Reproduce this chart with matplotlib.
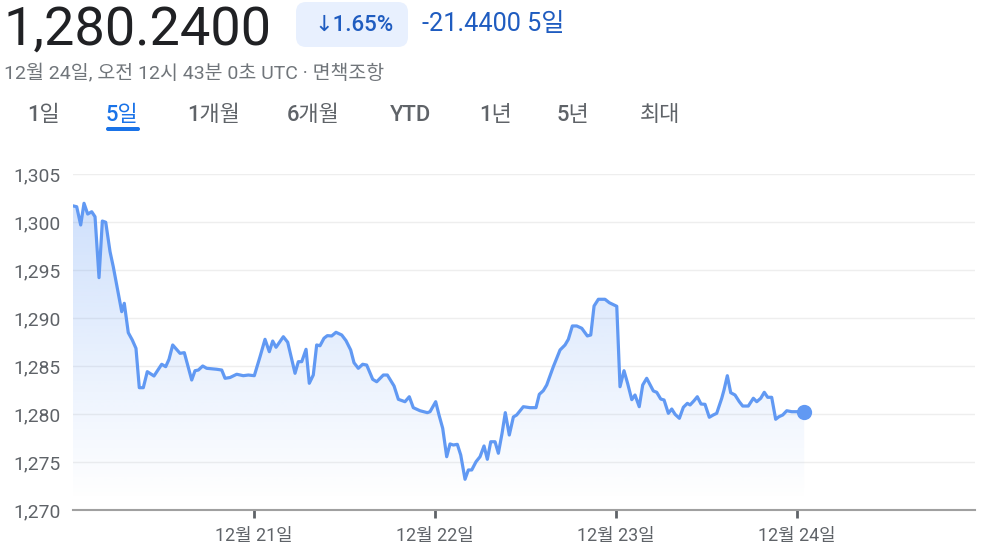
import numpy as np
import matplotlib
matplotlib.use("Agg")
import matplotlib.pyplot as plt
from matplotlib.patches import FancyBboxPatch

FONT = ['Roboto', 'Noto Sans CJK KR', 'DejaVu Sans']
plt.rcParams['font.family'] = FONT

# USD/KRW, hours since 12/20 00:00 UTC
hours = [0.00, 0.49, 1.02, 1.46, 1.95, 2.48, 2.92, 3.45, 3.89, 4.34,
         4.91, 5.34, 6.01, 6.46, 6.80, 7.33, 7.86, 8.35, 8.79, 9.32,
         9.85, 10.74, 11.76, 12.29, 12.73, 13.22, 14.19, 14.76, 15.74, 16.18,
         16.62, 17.20, 17.73, 19.05, 19.72, 20.16, 20.82, 21.71, 22.58, 23.25,
         24.04, 24.80, 25.46, 26.03, 26.48, 26.92, 27.89, 28.47, 29.44, 29.88,
         30.33, 30.90, 31.33, 31.86, 32.31, 32.75, 33.28, 33.72, 34.30, 34.87,
         35.63, 36.20, 36.82, 37.26, 37.83, 38.41, 38.94, 39.74, 40.27, 41.15,
         41.68, 42.57, 43.14, 44.02, 44.59, 45.12, 46.01, 46.98, 47.34, 48.09,
         48.53, 49.02, 49.55, 49.99, 50.43, 50.96, 51.41, 51.98, 52.42, 52.87,
         53.44, 53.97, 54.50, 54.94, 55.39, 55.96, 56.40, 56.89, 57.32, 57.85,
         58.39, 58.83, 59.71, 60.60, 61.39, 61.83, 62.36, 62.81, 63.69, 64.58,
         65.24, 65.68, 66.21, 66.79, 67.46, 68.20, 68.65, 69.09, 69.66, 70.54,
         71.12, 72.10, 72.53, 73.06, 73.55, 74.09, 74.52, 75.08, 75.54, 76.07,
         76.95, 77.40, 77.93, 78.37, 78.94, 79.39, 79.83, 80.40, 80.93, 81.46,
         81.82, 82.35, 82.78, 83.27, 83.80, 84.37, 84.90, 85.35, 86.02, 86.32,
         86.76, 87.21, 87.78, 88.35, 88.80, 89.54, 90.21, 90.66, 91.19, 91.66,
         92.11, 92.64, 93.17, 93.61, 94.11, 94.64, 95.30, 96.18, 96.95]
rates = [1301.68, 1301.59, 1299.69, 1301.95, 1300.83, 1301.07, 1300.55, 1294.20, 1300.10, 1299.97,
         1296.91, 1295.34, 1292.57, 1290.66, 1291.53, 1288.47, 1287.71, 1286.84, 1282.74, 1282.74,
         1284.41, 1283.96, 1285.18, 1284.93, 1285.70, 1287.19, 1286.32, 1286.39, 1283.54, 1284.51,
         1284.58, 1285.00, 1284.76, 1284.66, 1284.58, 1283.72, 1283.80, 1284.14, 1283.99, 1284.06,
         1283.99, 1285.97, 1287.78, 1286.49, 1287.60, 1286.95, 1288.05, 1287.47, 1284.24, 1285.45,
         1285.45, 1286.74, 1283.20, 1284.06, 1287.19, 1287.11, 1287.89, 1288.16, 1288.13, 1288.51,
         1288.23, 1287.64, 1286.67, 1285.34, 1284.76, 1285.18, 1285.10, 1283.61, 1283.36, 1284.06,
         1284.06, 1282.92, 1281.53, 1281.28, 1281.80, 1280.66, 1280.34, 1280.14, 1280.24, 1281.28,
         1279.90, 1278.51, 1275.55, 1276.88, 1276.77, 1276.84, 1275.73, 1273.20, 1274.17, 1274.17,
         1275.03, 1275.55, 1276.67, 1275.28, 1277.11, 1277.11, 1275.91, 1277.99, 1280.14, 1277.81,
         1279.69, 1279.90, 1280.76, 1280.66, 1280.66, 1282.05, 1282.43, 1283.02, 1284.93, 1286.67,
         1287.19, 1287.78, 1289.17, 1289.17, 1288.93, 1288.13, 1288.23, 1291.25, 1291.95, 1291.95,
         1291.59, 1291.22, 1282.84, 1284.51, 1283.16, 1281.49, 1281.98, 1280.76, 1283.02, 1283.72,
         1282.40, 1282.26, 1281.56, 1281.46, 1280.07, 1280.52, 1279.97, 1279.55, 1280.70, 1281.11,
         1280.94, 1281.39, 1281.80, 1281.04, 1281.01, 1279.66, 1279.90, 1280.07, 1281.64, 1282.50,
         1283.99, 1282.22, 1281.98, 1281.28, 1280.83, 1280.83, 1281.64, 1281.28, 1281.64, 1282.26,
         1281.74, 1281.74, 1279.45, 1279.72, 1279.90, 1280.34, 1280.24, 1280.24, 1280.24]

day_ticks = [24, 48, 72, 96]
day_labels = ['12월 21일', '12월 22일', '12월 23일', '12월 24일']
y_ticks = [1270, 1275, 1280, 1285, 1290, 1295, 1300, 1305]
range_tabs = ['1일', '5일', '1개월', '6개월', 'YTD', '1년', '5년', '최대']
tab_x = [27, 106, 187, 287, 390, 479, 557, 640]
active_tab = 1

last_price = 1280.24
change_abs = -21.44
change_pct = change_abs / (last_price - change_abs) * 100
stamp = '12월 24일, 오전 12시 43분 0초 UTC · 면책조항'

W, H = 983, 551
LINE = '#6199f3'
BLUE_TXT = '#1f5cc0'
GRAY = '#5f6368'

fig = plt.figure(figsize=(W / 100, H / 100), dpi=100)
fig.patch.set_facecolor('white')


def fx(px):
    return px / W


def fy(py):
    return 1 - py / H


# header
fig.text(fx(3), fy(45), f'{last_price:,.4f}', fontsize=39, color='#202124',
         ha='left', va='baseline')
badge = FancyBboxPatch((296, H - 47), 112, 45,
                       boxstyle='round,pad=0,rounding_size=10',
                       transform=None, fc='#e8f0fe', ec='none')
fig.add_artist(badge)
fig.text(fx(354), fy(31), f'↓{abs(change_pct):.2f}%', fontsize=16,
         color=BLUE_TXT, ha='center', va='baseline', weight='medium',
         family=['Roboto', 'DejaVu Sans'])
fig.text(fx(422), fy(31), f'{change_abs:.4f} 5일', fontsize=18.2,
         color=BLUE_TXT, ha='left', va='baseline')
fig.text(fx(4), fy(78), stamp, fontsize=14, color='#70757a',
         ha='left', va='baseline')

# range tabs
for i, (lab, x) in enumerate(zip(range_tabs, tab_x)):
    c = '#1a73e8' if i == active_tab else GRAY
    fig.text(fx(x), fy(121), lab, fontsize=15.8, color=c, ha='left',
             va='baseline', weight='medium')
bar = FancyBboxPatch((106, H - 131), 34, 4,
                     boxstyle='round,pad=0,rounding_size=2',
                     transform=None, fc='#1a73e8', ec='none')
fig.add_artist(bar)

# chart
ax = fig.add_axes([fx(73), fy(510), (975 - 73) / W, 336 / H])
ax.set_facecolor('white')

fill = ax.fill_between(hours, rates, 1270, color='none', lw=0)
rgb = np.array([102, 157, 246]) / 255
grad = np.zeros((256, 1, 4))
grad[..., :3] = rgb
grad[..., 3] = np.linspace(0.32, 0.0, 256)[:, None]
im = ax.imshow(grad, extent=[hours[0], hours[-1], 1271, 1302.5],
               aspect='auto', origin='upper', zorder=1, interpolation='bilinear')
im.set_clip_path(fill.get_paths()[0], transform=ax.transData)

ax.plot(hours, rates, color=LINE, lw=2.3, zorder=3, solid_joinstyle='round')
ax.plot(hours[-1], rates[-1], 'o', ms=11, color=LINE, zorder=4, mec='none')

ax.set_xlim(0, 119.6)
ax.set_ylim(1270, 1305)
ax.set_yticks(y_ticks)
ax.set_yticklabels([f'{v:,}' for v in y_ticks])
ax.set_xticks(day_ticks)
ax.set_xticklabels(day_labels)
ax.grid(axis='y', color='#eeeeee', lw=1.0, zorder=0)
ax.set_axisbelow(True)
for s in ['top', 'right', 'left']:
    ax.spines[s].set_visible(False)
ax.spines['bottom'].set_color('#a0a0a0')
ax.spines['bottom'].set_linewidth(1.5)
ax.spines['bottom'].set_zorder(5)
ax.tick_params(axis='y', length=0, pad=9, labelsize=13.9, labelcolor=GRAY)
ax.tick_params(axis='x', length=6, width=2, color='#5f6368', pad=6,
               labelsize=12.9, labelcolor=GRAY)

fig.savefig('out.png', dpi=100, facecolor='white')
